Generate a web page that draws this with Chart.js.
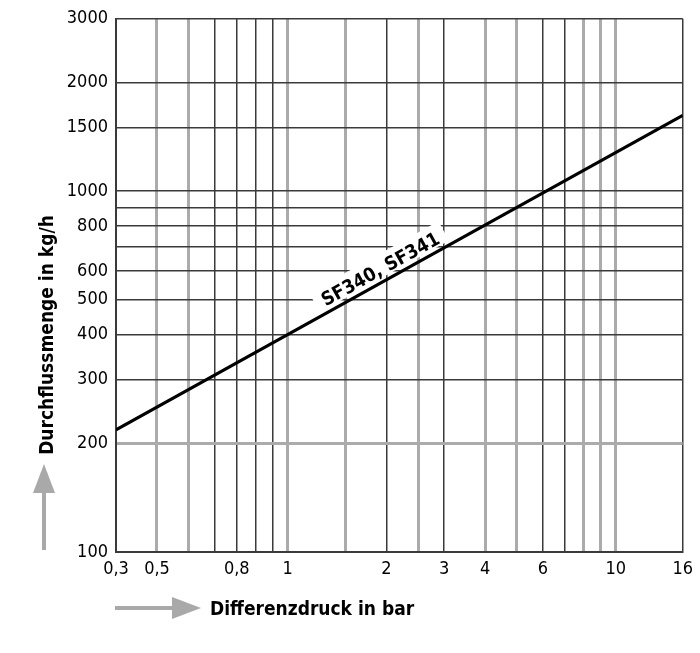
<!DOCTYPE html>
<html>
<head>
<meta charset="utf-8">
<script src="https://cdn.jsdelivr.net/npm/chart.js@4.4.0/dist/chart.umd.min.js"></script>
<style>
  html, body { margin: 0; padding: 0; background: #fff; }
</style>
</head>
<body>
<canvas id="flowChart" width="700" height="653"></canvas>
<script>
// Durchfluss SF340 / SF341 - log/log diagram

// x axis: Differenzdruck (bar)
const pressureTicks  = [0.3, 0.4, 0.5, 0.6, 0.7, 0.8, 0.9, 1, 1.5, 2, 2.5, 3, 4, 5, 6, 7, 8, 9, 10, 16];
const pressureLabels = ['0,3', '0,5', '', '', '0,8', '', '', '1', '', '2', '', '3', '4', '', '6', '', '', '', '10', '16'];
const pressureLight  = [0.4, 0.5, 1, 1.5, 2.5, 4, 5, 8, 9, 10];

// y axis: Durchflussmenge (kg/h)
const flowTicks  = [100, 200, 300, 400, 500, 600, 700, 800, 900, 1000, 1500, 2000, 3000];
const flowLabels = ['100', '200', '300', '400', '500', '600', '', '800', '', '1000', '1500', '2000', '3000'];
const flowLight  = [200];

// curve
const curvePressure = [0.3, 16];
const curveFlow     = [218, 1620];
const curveName     = 'SF340, SF341';
const curveLabelAt  = 2.0;

const FONT = '"Liberation Sans Narrow", "DejaVu Sans Condensed", sans-serif';
const DARK = '#3a3a3a';
const LIGHT = '#ababab';
const ARROW = '#a9a9a9';

// draws curve label, axis titles and the grey arrows
const decorPlugin = {
    id: 'decor',
    afterDatasetsDraw(chart) {
        const ctx = chart.ctx;
        const pts = chart.getDatasetMeta(0).data;
        const p0 = pts[0], p1 = pts[pts.length - 1];
        const ax = chart.scales.x.getPixelForValue(curveLabelAt);
        const t = (ax - p0.x) / (p1.x - p0.x);
        const ay = p0.y + t * (p1.y - p0.y);
        const angle = Math.atan2(p1.y - p0.y, p1.x - p0.x);

        ctx.save();
        ctx.translate(ax, ay);
        ctx.rotate(angle);
        ctx.font = 'bold 19px ' + FONT;
        const w = ctx.measureText(curveName).width;
        ctx.fillStyle = '#fff';
        ctx.fillRect(-w / 2 - 8, -26, w + 16, 22);
        ctx.fillStyle = '#000';
        ctx.textAlign = 'center';
        ctx.textBaseline = 'alphabetic';
        ctx.fillText(curveName, 0, -6);
        ctx.restore();
    },
    afterDraw(chart) {
        const ctx = chart.ctx;
        ctx.save();

        // y title
        ctx.font = 'bold 19px ' + FONT;
        ctx.fillStyle = '#000';
        ctx.textAlign = 'center';
        ctx.textBaseline = 'middle';
        ctx.save();
        ctx.translate(48, 335);
        ctx.rotate(-Math.PI / 2);
        ctx.fillText('Durchflussmenge in kg/h', 0, 0);
        ctx.restore();

        // x title
        ctx.textAlign = 'left';
        ctx.fillText('Differenzdruck in bar', 210, 610);

        // vertical arrow
        ctx.fillStyle = ARROW;
        ctx.fillRect(42, 492, 4, 58);
        ctx.beginPath();
        ctx.moveTo(33, 493);
        ctx.lineTo(55, 493);
        ctx.lineTo(44, 464);
        ctx.closePath();
        ctx.fill();

        // horizontal arrow
        ctx.fillRect(115, 606, 58, 4);
        ctx.beginPath();
        ctx.moveTo(172, 597);
        ctx.lineTo(172, 619);
        ctx.lineTo(201, 608);
        ctx.closePath();
        ctx.fill();

        ctx.restore();
    }
};

new Chart(document.getElementById('flowChart').getContext('2d'), {
    type: 'line',
    data: {
        datasets: [{
            label: curveName,
            data: curvePressure.map((p, i) => ({ x: p, y: curveFlow[i] })),
            borderColor: '#000',
            borderWidth: 3,
            pointRadius: 0,
            tension: 0
        }]
    },
    options: {
        responsive: false,
        animation: false,
        layout: { padding: { top: 18, right: 14, left: 0, bottom: 0 } },
        plugins: {
            legend: { display: false },
            tooltip: { enabled: false }
        },
        scales: {
            x: {
                type: 'logarithmic',
                min: 0.3,
                max: 16,
                afterBuildTicks: (scale) => { scale.ticks = pressureTicks.map(v => ({ value: v })); },
                afterFit: (scale) => { scale.height = 101; },
                ticks: {
                    autoSkip: false,
                    maxRotation: 0,
                    padding: 7,
                    color: '#000',
                    font: { family: FONT, size: 18 },
                    callback: (v, i) => pressureLabels[i]
                },
                grid: {
                    drawTicks: false,
                    color: (c) => pressureLight.includes(c.tick && c.tick.value) ? LIGHT : DARK,
                    lineWidth: (c) => pressureLight.includes(c.tick && c.tick.value) ? 3 : 1.5
                },
                border: { display: true, color: DARK, width: 2 }
            },
            y: {
                type: 'logarithmic',
                min: 100,
                max: 3000,
                afterBuildTicks: (scale) => { scale.ticks = flowTicks.map(v => ({ value: v })); },
                afterFit: (scale) => { scale.width = 116; },
                ticks: {
                    autoSkip: false,
                    padding: 8,
                    color: '#000',
                    font: { family: FONT, size: 18 },
                    callback: (v, i) => flowLabels[i]
                },
                grid: {
                    drawTicks: false,
                    color: (c) => flowLight.includes(c.tick && c.tick.value) ? LIGHT : DARK,
                    lineWidth: (c) => flowLight.includes(c.tick && c.tick.value) ? 3 : 1.5
                },
                border: { display: true, color: DARK, width: 2 }
            }
        }
    },
    plugins: [decorPlugin]
});
</script>
</body>
</html>
